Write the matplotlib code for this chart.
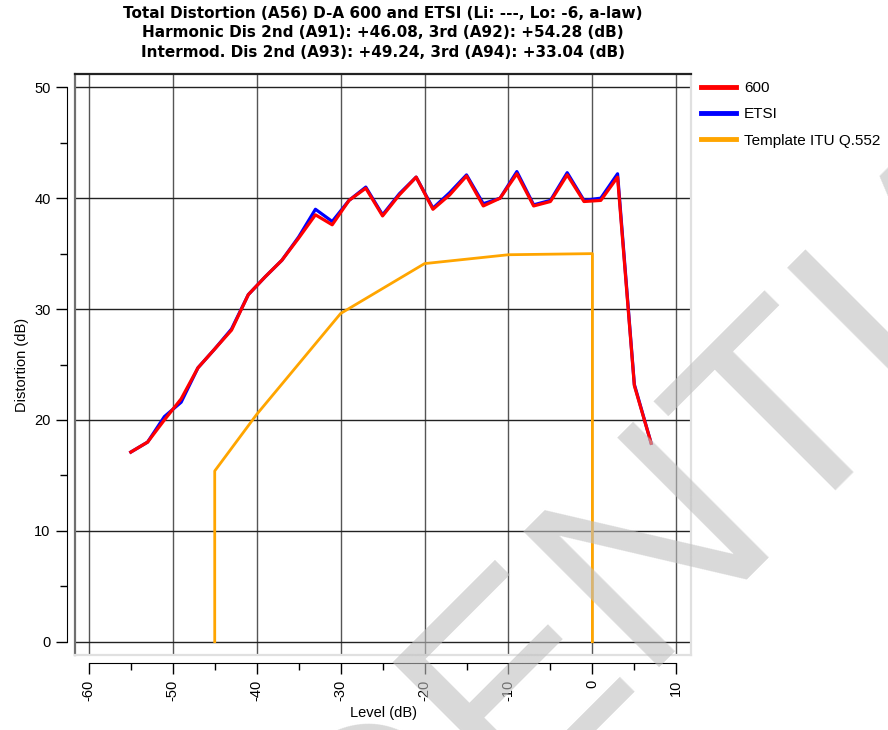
import matplotlib
matplotlib.use("Agg")
import matplotlib.pyplot as plt
from matplotlib.ticker import MultipleLocator

plt.rcParams["font.family"] = ["Liberation Sans", "DejaVu Sans"]
plt.rcParams["axes.unicode_minus"] = False

# measured level (dB) and distortion (dB)
level = [-55, -53, -51, -49, -47, -45, -43, -41, -39, -37, -35, -33, -31, -29, -27, -25,
         -23, -21, -19, -17, -15, -13, -11, -9, -7, -5, -3, -1, 1, 3, 5, 7]
dist_600 = [17.1, 18.0, 20.0, 21.9, 24.7, 26.4, 28.1, 31.3, 32.9, 34.4, 36.4, 38.5, 37.6, 39.8, 40.9, 38.4,
            40.3, 41.9, 39.0, 40.3, 42.0, 39.3, 40.0, 42.2, 39.3, 39.7, 42.1, 39.7, 39.8, 41.9, 23.1, 17.9]
dist_etsi = [17.1, 18.0, 20.3, 21.6, 24.7, 26.4, 28.2, 31.3, 32.9, 34.4, 36.5, 39.0, 37.9, 39.8, 41.0, 38.5,
             40.4, 41.9, 39.1, 40.5, 42.1, 39.5, 40.0, 42.4, 39.4, 39.8, 42.3, 39.8, 40.0, 42.2, 23.2, 17.9]

# template ITU Q.552
tmpl_x = [-45, -45, -40, -30, -20, -10, 0, 0]
tmpl_y = [0, 15.4, 20.5, 29.6, 34.1, 34.9, 35.0, 0]

fig = plt.figure(figsize=(8.88, 7.30), dpi=100)
rect = [75 / 888, 1 - 655 / 730, (691 - 75) / 888, (655 - 74) / 730]

# plot frame with data
ax = fig.add_axes(rect)
ax.set_xlim(-61.65, 11.75)
ax.set_ylim(-1.2, 51.2)
ax.plot(level, dist_etsi, color="#0000ff", linewidth=2.3, label="ETSI", zorder=3)
ax.plot(level, dist_600, color="#ff0000", linewidth=2.3, label="600", zorder=4)
ax.plot(tmpl_x, tmpl_y, color="#ffa500", linewidth=2.0, label="Template ITU Q.552", zorder=2)
ax.xaxis.set_major_locator(MultipleLocator(10))
ax.yaxis.set_major_locator(MultipleLocator(10))
ax.grid(axis="x", color="#555555", linewidth=1.0)
ax.grid(axis="y", color="#222222", linewidth=1.0)
ax.tick_params(length=0, labelbottom=False, labelleft=False)
ax.spines["top"].set_color("#222222")
ax.spines["left"].set_color("#707070")
ax.spines["right"].set_color("#e0e0e0")
ax.spines["bottom"].set_color("#e0e0e0")
for s in ax.spines.values():
    s.set_linewidth(1.6)

# separate axis lines with ticks
ax2 = fig.add_axes(rect, facecolor="none")
ax2.set_xlim(ax.get_xlim())
ax2.set_ylim(ax.get_ylim())
ax2.spines["top"].set_visible(False)
ax2.spines["right"].set_visible(False)
ax2.spines["left"].set_position(("outward", 6))
ax2.spines["bottom"].set_position(("outward", 6))
ax2.spines["left"].set_bounds(0, 50)
ax2.spines["bottom"].set_bounds(-60, 10)
ax2.xaxis.set_major_locator(MultipleLocator(10))
ax2.xaxis.set_minor_locator(MultipleLocator(5))
ax2.yaxis.set_major_locator(MultipleLocator(10))
ax2.yaxis.set_minor_locator(MultipleLocator(5))
ax2.tick_params(which="major", length=8, width=1, labelsize=10.5)
ax2.tick_params(which="minor", length=5, width=1)
ax2.tick_params(axis="x", labelrotation=90)
ax2.set_xlabel("Level (dB)", fontsize=10.5)
ax2.set_ylabel("Distortion (dB)", fontsize=10.5)

fig.text(383 / 888, 1 - 6 / 730,
         "Total Distortion (A56) D-A 600 and ETSI (Li: ---, Lo: -6, a-law)\n"
         "Harmonic Dis 2nd (A91): +46.08, 3rd (A92): +54.28 (dB)\n"
         "Intermod. Dis 2nd (A93): +49.24, 3rd (A94): +33.04 (dB)",
         ha="center", va="top", fontsize=11, fontweight="bold", linespacing=1.36,
         family=["DejaVu Sans"])

handles, labels = ax.get_legend_handles_labels()
order = [1, 0, 2]
leg = fig.legend([handles[i] for i in order], [labels[i] for i in order],
                 loc="upper left", bbox_to_anchor=(695 / 888, 1 - 75 / 730),
                 frameon=False, fontsize=11, handlelength=2.3, handletextpad=0.5,
                 labelspacing=0.8, borderaxespad=0)
for line in leg.get_lines():
    line.set_linewidth(3.5)

# watermark
fig.text(0.48, -0.075, "CONFIDENTIAL", rotation=45, rotation_mode="anchor",
         ha="center", va="center", fontsize=200, color="#c0c0c0", alpha=0.6, zorder=10)

plt.savefig("out.png", dpi=100)
